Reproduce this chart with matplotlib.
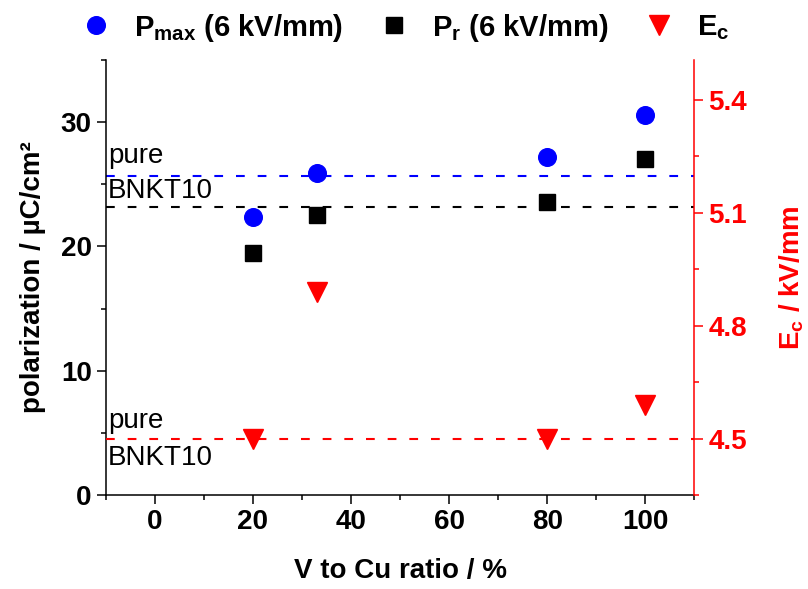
import numpy as np
import matplotlib.pyplot as plt
from matplotlib.lines import Line2D
from matplotlib.ticker import MultipleLocator

plt.rcParams['font.family'] = ['Liberation Sans', 'DejaVu Sans']
plt.rcParams['mathtext.fontset'] = 'custom'
plt.rcParams['mathtext.rm'] = 'Liberation Sans:bold'
plt.rcParams['mathtext.bf'] = 'Liberation Sans:bold'

# --- data ---
ratio = [20, 33, 80, 100]          # V to Cu ratio [%]
p_max = [22.4, 25.9, 27.2, 30.6]   # uC/cm2
p_r = [19.5, 22.5, 23.6, 27.0]     # uC/cm2
e_c = [4.50, 4.89, 4.50, 4.59]     # kV/mm

# reference values for pure BNKT10
pure_pmax = 25.7
pure_pr = 23.2
pure_ec = 4.5

FS = 20

fig = plt.figure(figsize=(8.08, 5.89), dpi=100)
ax = fig.add_axes([0.1308, 0.1596, 0.7285, 0.7384])
ax2 = ax.twinx()

dash = (0, (4.2, 6.2))
ax.axhline(pure_pmax, color='blue', lw=1.5, ls=dash)
ax.axhline(pure_pr, color='black', lw=1.5, ls=dash)
ax2.axhline(pure_ec, color='red', lw=1.5, ls=dash)

ax.plot(ratio, p_max, 'o', color='blue', ms=12.7, ls='none')
ax.plot(ratio, p_r, 's', color='black', ms=11.3, ls='none')
ax2.plot(ratio, e_c, 'v', color='red', ms=15, ls='none')

ax.set_xlim(-10, 110)
ax.set_ylim(0, 35)
ax2.set_ylim(4.35, 5.505)

ax.xaxis.set_major_locator(MultipleLocator(20))
ax.xaxis.set_minor_locator(MultipleLocator(10))
ax.yaxis.set_major_locator(MultipleLocator(10))
ax.yaxis.set_minor_locator(MultipleLocator(5))
ax2.yaxis.set_major_locator(MultipleLocator(0.3))
ax2.yaxis.set_minor_locator(MultipleLocator(0.15))
ax2.set_yticks([4.5, 4.8, 5.1, 5.4])

for a in (ax, ax2):
    a.spines['top'].set_visible(False)
    for s in a.spines.values():
        s.set_linewidth(1.1)
ax.spines['right'].set_visible(False)
ax2.spines['left'].set_visible(False)
ax2.spines['bottom'].set_visible(False)
ax2.spines['right'].set_color('red')

ax.tick_params(which='major', direction='out', length=6.5, width=1.1, labelsize=FS)
ax.tick_params(which='minor', direction='out', length=3.6, width=1.1)
ax2.tick_params(which='major', direction='out', length=6.5, width=1.1, labelsize=FS,
                colors='red')
ax2.tick_params(which='minor', direction='out', length=3.6, width=1.1, colors='red')
for lab in ax.get_xticklabels() + ax.get_yticklabels() + ax2.get_yticklabels():
    lab.set_fontweight('bold')

ax.set_xlabel('V to Cu ratio / %', fontsize=FS, fontweight='bold', labelpad=17)
ax.set_ylabel('polarization / µC/cm²', fontsize=FS, fontweight='bold', labelpad=11)
ax2.set_ylabel(r'$\mathbf{E_c}$ / kV/mm', fontsize=FS, fontweight='bold',
               color='red', labelpad=22)

# labels for the pure BNKT10 reference lines
ax.text(-9.5, 26.7, 'pure', fontsize=FS)
ax.text(-9.5, 23.9, 'BNKT10', fontsize=FS)
ax.text(-9.5, 5.4, 'pure', fontsize=FS)
ax.text(-9.5, 2.4, 'BNKT10', fontsize=FS)

handles = [
    Line2D([], [], marker='o', color='blue', ms=12.7, ls='none'),
    Line2D([], [], marker='s', color='black', ms=11.3, ls='none'),
    Line2D([], [], marker='v', color='red', ms=15, ls='none'),
]
labels = [r'$\mathbf{P_{max}}$ (6 kV/mm)', r'$\mathbf{P_r}$ (6 kV/mm)', r'$\mathbf{E_c}$']
leg = fig.legend(handles, labels, loc='upper left', bbox_to_anchor=(0.05, 1.025),
                 ncol=3, frameon=False, handletextpad=0.3, columnspacing=0.75,
                 prop={'size': 21, 'weight': 'bold'})

fig.savefig('out.png', dpi=100)
